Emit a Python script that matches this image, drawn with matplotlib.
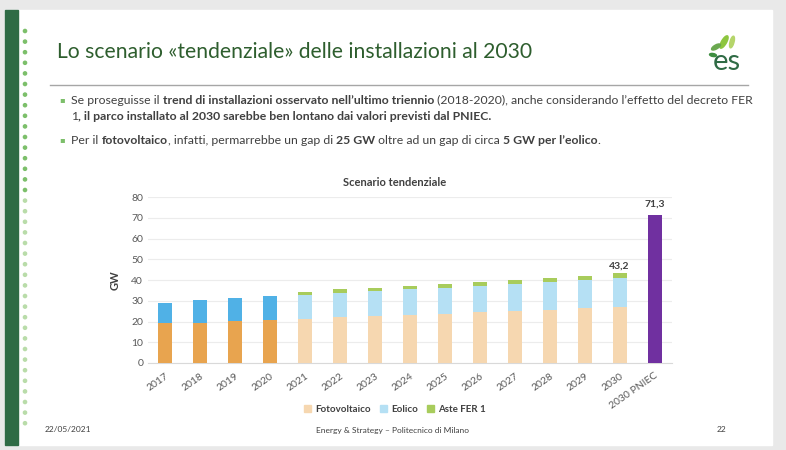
import matplotlib.pyplot as plt
import matplotlib.patches as mpatches
import numpy as np

# data
anni = ['2017', '2018', '2019', '2020', '2021', '2022', '2023', '2024',
        '2025', '2026', '2027', '2028', '2029', '2030', '2030 PNIEC']
fotovoltaico = [19.1, 19.4, 20.2, 20.9, 21.4, 22.2, 22.8, 23.3, 23.8, 24.6, 25.2, 25.7, 26.4, 26.8]
eolico = [10.0, 10.8, 11.1, 11.2, 11.2, 11.4, 11.7, 12.2, 12.5, 12.7, 13.0, 13.5, 13.6, 14.2]
aste_fer1 = [0, 0, 0, 0, 1.8, 2.1, 1.8, 1.6, 1.9, 1.9, 1.9, 1.8, 1.9, 2.2]
pniec = 71.3
n_storici = 4

FONT = ['Liberation Sans Narrow', 'Lato', 'DejaVu Sans']
plt.rcParams['font.family'] = FONT

fig = plt.figure(figsize=(7.86, 4.5), dpi=100)
fig.patch.set_facecolor('#e9e9e9')

# slide background
bg = fig.add_axes([0, 0, 1, 1], zorder=-10)
bg.set_xlim(0, 786)
bg.set_ylim(450, 0)
bg.axis('off')
bg.add_patch(mpatches.Rectangle((5, 10), 767, 435, color='white'))
bg.add_patch(mpatches.Rectangle((5, 10), 13, 435, color='#2f6b45'))
for i, yy in enumerate(np.arange(31, 426, 10.6)):
    c = '#7cbf6a' if yy < 200 else '#b9dca9'
    bg.add_patch(mpatches.Circle((25, yy), 1.6, color=c))
bg.plot([50, 748], [85, 85], color='#a6a6a6', lw=1)

# logo
for (x, y, w, h, a, c) in [(724, 42, 5, 14, 30, '#8dc63f'), (732, 42, 4, 12, 15, '#b5d56a'),
                           (716, 47, 4, 10, 60, '#6aa84f'), (713, 55, 3, 7, 100, '#3e8e41')]:
    bg.add_patch(mpatches.Ellipse((x, y), w, h, angle=a, color=c))
bg.text(727, 62, 'es', fontsize=21, color='#2f6b45', ha='center', va='center', family=['Lato', 'DejaVu Sans'])

bg.text(57, 52, 'Lo scenario «tendenziale» delle installazioni al 2030', fontsize=15.2,
        color='#2e5e2e', va='center', ha='left')


def riga(x, y, pezzi, size=8.8):
    r = fig.canvas.get_renderer()
    for testo, bold in pezzi:
        t = bg.text(x, y, testo, fontsize=size, color='#404040', va='center', ha='left',
                    fontweight='bold' if bold else 'normal')
        bb = t.get_window_extent(renderer=r)
        x += bb.width * 786 / fig.bbox.width


bg.text(59, 100, '▪', fontsize=6, color='#7cbf6a', va='center', family='DejaVu Sans')
bg.text(59, 140, '▪', fontsize=6, color='#7cbf6a', va='center', family='DejaVu Sans')
riga(71, 100, [('Se proseguisse il ', False), ('trend di installazioni osservato nell\u2019ultimo triennio', True),
               (' (2018-2020), anche considerando l\u2019effetto del decreto FER', False)])
riga(71, 117, [('1', False), (', il parco installato al 2030 sarebbe ben lontano dai valori previsti dal PNIEC.', True)])
riga(71, 140, [('Per il ', False), ('fotovoltaico', True), (', infatti, permarrebbe un gap di ', False), ('25 GW', True),
               (' oltre ad un gap di circa ', False), ('5 GW per l\u2019eolico', True), ('.', False)])

# footer
bg.text(45, 430, '22/05/2021', fontsize=6, color='#404040', va='center')
bg.text(393, 430, 'Energy & Strategy \u2013 Politecnico di Milano', fontsize=6, color='#404040',
        va='center', ha='center')
bg.text(717, 430, '22', fontsize=6, color='#404040', va='center')

# chart
ax = fig.add_axes([148 / 786, 1 - 363 / 450, 524 / 786, 166 / 450])
ax.set_facecolor('white')
x = np.arange(len(anni))
w = 0.4
fv = np.array(fotovoltaico)
eo = np.array(eolico)
af = np.array(aste_fer1)
col_fv = ['#e8a44f'] * n_storici + ['#f6d7b0'] * (len(fv) - n_storici)
col_eo = ['#50b1e6'] * n_storici + ['#b5e0f4'] * (len(fv) - n_storici)
ax.bar(x[:-1], fv, w, color=col_fv, zorder=3)
ax.bar(x[:-1], eo, w, bottom=fv, color=col_eo, zorder=3)
ax.bar(x[:-1], af, w, bottom=fv + eo, color='#a8cc5c', zorder=3)
ax.bar(x[-1], pniec, w, color='#7030a0', zorder=3)

tot2030 = fv[-1] + eo[-1] + af[-1]
ax.text(x[-2], tot2030 + 1.5, f'{tot2030:.1f}'.replace('.', ','), ha='center', va='bottom',
        fontsize=7.5, fontweight='bold', color='#404040')
ax.text(x[-1], pniec + 3, f'{pniec:.1f}'.replace('.', ','), ha='center', va='bottom',
        fontsize=7.5, fontweight='bold', color='#404040')

ax.set_xlim(-0.5, len(anni) - 0.5)
ax.set_ylim(0, 80)
ax.set_yticks(range(0, 81, 10))
ax.grid(axis='y', color='#ececec', lw=0.8, zorder=0)
for s in ['top', 'right', 'left']:
    ax.spines[s].set_visible(False)
ax.spines['bottom'].set_color('#d9d9d9')
ax.tick_params(length=0, labelsize=7.5, labelcolor='#595959')
ax.set_xticks(x)
ax.set_xticklabels(anni, rotation=35, ha='right', rotation_mode='anchor')
ax.tick_params(axis='x', pad=6)
ax.set_ylabel('GW', fontsize=8, fontweight='bold', color='#404040', labelpad=8)

fig.text(395 / 786, 1 - 182 / 450, 'Scenario tendenziale', ha='center', va='center',
         fontsize=8, fontweight='bold', color='#404040')

handles = [mpatches.Patch(color='#f6d7b0', label='Fotovoltaico'),
           mpatches.Patch(color='#b5e0f4', label='Eolico'),
           mpatches.Patch(color='#a8cc5c', label='Aste FER 1')]
leg = fig.legend(handles=handles, loc='center', bbox_to_anchor=(395 / 786, 1 - 409 / 450), ncol=3,
                 frameon=False, fontsize=7, handlelength=0.7, handleheight=0.7, handletextpad=0.4,
                 columnspacing=1.0)
for t in leg.get_texts():
    t.set_fontweight('bold')
    t.set_color('#404040')

fig.savefig('out.png', dpi=100, facecolor=fig.get_facecolor())
